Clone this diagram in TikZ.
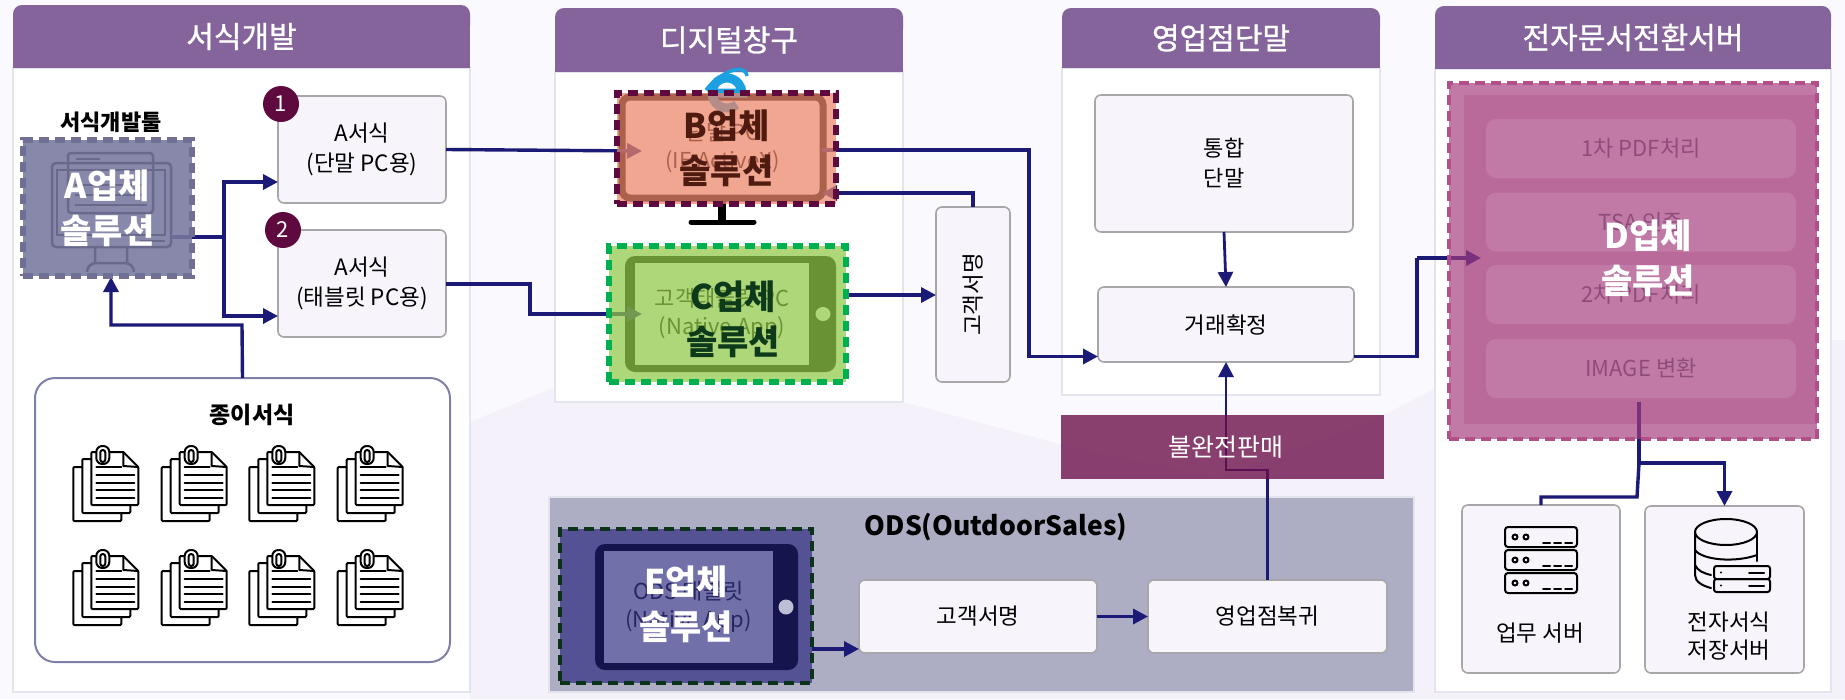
\documentclass[tikz,border=0pt]{standalone}
\usepackage{fontspec}
\setmainfont{Noto Sans CJK KR}
\newfontfamily\krtitle[FakeBold=1]{Noto Sans CJK KR}
\usetikzlibrary{arrows.meta,calc,shapes.geometric}
\definecolor{navy}{HTML}{1B1B77}
\definecolor{hdr}{HTML}{85649B}
\definecolor{bgA}{HTML}{FAF9FD}
\definecolor{bgB}{HTML}{F5F1FA}
\definecolor{pborder}{HTML}{E4E4EE}
\definecolor{boxfill}{HTML}{F7F5FB}
\definecolor{boxline}{HTML}{A9A6A9}
\definecolor{wine}{HTML}{5F0A3F}
\definecolor{odsfill}{HTML}{ADADC4}
\definecolor{papline}{HTML}{7F80A8}
\definecolor{bluei}{HTML}{1BA1E2}
\definecolor{dinner}{HTML}{E4C8DB}
\definecolor{dtext}{HTML}{606F7D}
\definecolor{dashA}{HTML}{6F6F96}
\definecolor{ovA}{HTML}{78789F}
\definecolor{ovB}{HTML}{ED8669}
\definecolor{txtB}{HTML}{4F1A10}
\definecolor{dashC}{HTML}{00B050}
\definecolor{ovC}{HTML}{91C948}
\definecolor{txtC}{HTML}{0D3A1A}
\definecolor{dashE}{HTML}{0B3319}
\definecolor{ovE}{HTML}{22207A}
\definecolor{btnE}{HTML}{BDBDD6}
\definecolor{dashD}{HTML}{B04F88}
\definecolor{ovD}{HTML}{A53C7C}
\definecolor{ovF}{HTML}{6B0F4A}
\newcommand{\fz}[2]{\fontsize{#1pt}{#2pt}\selectfont}
\tikzset{
  x=1pt,y=-1pt,
  conn/.style={draw=navy,line width=3.4pt,-{Triangle[length=15pt,width=15pt]}},
  plainconn/.style={draw=navy,line width=3.4pt},
  fbox/.style={draw=boxline,line width=1.6pt,fill=boxfill,rounded corners=6pt,inner sep=0pt,outer sep=0pt,align=center,font=\fz{22.5}{30}},
  numdot/.style={circle,fill=wine,text=white,minimum size=36pt,inner sep=0pt,font=\fz{22}{22}},
  solution/.style={inner sep=0pt,outer sep=0pt,line width=5.5pt,dash pattern=on 10pt off 6pt,text opacity=1,align=center,font=\bfseries\fz{34}{45}},
  soltext/.style={inner sep=0pt,align=center,font=\bfseries\fz{34}{45}},
  underscreen/.style={inner sep=0pt,outer sep=0pt,align=center,font=\fz{22}{28}},
  icon/.style={draw=black,line width=2pt,line cap=round,line join=round},
  docicon/.pic={
    \draw[icon,fill=white,rounded corners=1pt] (0,21) rectangle (48,75);
    \draw[icon,fill=white,rounded corners=1pt] (9,13) rectangle (57,67);
    \draw[icon,fill=white,rounded corners=1pt] (18,6) -- (50,6) -- (65,21) -- (65,59) -- (18,59) -- cycle;
    \draw[icon] (50,6) -- (50,20) -- (65,21);
    \foreach \ly in {29,37,44,52} {\draw[icon] (23,\ly) -- (61,\ly);}
    \draw[icon] (23,21) -- (48,21);
    \draw[icon,fill=white,rounded corners=6pt] (23,0) rectangle (36,18);
    \draw[icon,rounded corners=2.5pt] (27,4) rectangle (32,16);
  }
}
\newcommand{\panel}[7]{%
  \draw[pborder,line width=2pt,fill=white] (#2,#4) rectangle (#5,#6);
  \fill[hdr,rounded corners=9pt] (#2,#3) rectangle (#5,#3+30);
  \fill[hdr] (#2,#3+15) rectangle (#5,#4);
  \node[text=white,font=\krtitle\fz{30}{30},inner sep=0pt] (#1) at ($(#2,#3)!.5!(#5,#4)$) {#7};
}
\begin{document}
\begin{tikzpicture}
\useasboundingbox (0,0) rectangle (1845,699);
\fill[bgA] (0,0) rectangle (1845,699);
\fill[bgB] (470,422) -- (556,387) -- (730,340) -- (903,402) -- (1063,445) -- (1220,478) -- (1384,415) -- (1432,390) -- (1500,340) -- (1845,340) -- (1845,699) -- (470,699) -- cycle;

\panel{t1}{13}{5}{68}{470}{692}{서식개발}
\panel{t2}{555}{8}{72}{903}{402}{디지털창구}
\panel{t3}{1062}{8}{68}{1380}{395}{영업점단말}
\panel{t4}{1435}{6}{69}{1831}{692}{전자문서전환서버}

% ODS panel
\node[draw=pborder,line width=2pt,fill=odsfill,inner sep=0pt,outer sep=0pt,minimum width=865pt,minimum height=195pt] (ods) at (981.5,594.5) {};
\node[inner sep=0pt,font=\bfseries\fz{26.5}{26.5}] (odst) at (996,527) {ODS(OutdoorSales)};

% --- A tool icon (under overlay)
\node[font=\bfseries\fz{22}{22},inner sep=0pt] (toolt) at (111,122) {서식개발툴};
\fill[white] (23,140) rectangle (192,276);
\node[draw=black,line width=2.5pt,rounded corners=4pt,minimum width=119pt,minimum height=84pt,inner sep=0pt,outer sep=0pt] (monA) at (111.5,205) {};
\draw[black,line width=2.5pt] (57,170) rectangle (165,235);
\draw[black,line width=2.5pt,rounded corners=3pt] (68,213) -- (68,153) -- (153,153) -- (153,213) -- cycle;
\draw[black,line width=2.5pt] (76,159) -- (100,159);
\foreach \ly in {185,195,205,213} {\draw[black,line width=2.5pt] (75,\ly) -- (147,\ly);}
\draw[black,line width=2.5pt] (140,241) -- (165,241);
\draw[black,line width=2.5pt] (95,247) -- (95,263) (127,247) -- (127,263) (87,272) arc[start angle=180,end angle=270,radius=9] -- (125,263) arc[start angle=270,end angle=360,radius=9];

% --- form boxes
\node[fbox,minimum width=168pt,minimum height=107pt] (f1) at (362,149.5) {A서식\\(단말 PC용)};
\node[fbox,minimum width=168pt,minimum height=107pt] (f2) at (362,283.5) {A서식\\(태블릿 PC용)};
\node[numdot] (n1) at (281,104) {1};
\node[numdot] (n2) at (283,230) {2};

% --- paper forms
\node[draw=papline,fill=white,line width=2pt,rounded corners=20pt,minimum width=415pt,minimum height=284pt,inner sep=0pt,outer sep=0pt] (paper) at (242.5,520) {};
\node[font=\bfseries\fz{23}{23},inner sep=0pt] (papert) at (252,415) {종이서식};
\foreach \dy in {446,550} {\foreach \dx in {73.3,161.7,249.3,337.7} {\pic at (\dx,\dy) {docicon};}}

% --- A connectors
\coordinate (j1) at (224,237);
\draw[plainconn] (monA.east |- j1) -- (j1);
\draw[conn] (j1) |- ([yshift=-32.5pt]f1.west);
\draw[conn] (j1) |- ([yshift=-32.5pt]f2.west);
\coordinate (j2) at (242,325);
\coordinate (aup) at (111,277);
\draw[conn] (paper.north) -- (j2) -| (aup);

% --- monitor B under overlay
\node[draw=black,line width=7pt,fill=white,rounded corners=8pt,minimum width=201pt,minimum height=101pt,underscreen] (monB) at (722.5,147.5) {단말 PC\\(IE ActiveX)};
\draw[line width=9pt,bluei] (736.6,104.5) arc[start angle=50,end angle=360,radius=15] -- (712,93);
\draw[line width=3.5pt,bluei] (706,90) .. controls (720,72) and (745,62) .. (747,76);
\draw[black,line width=8pt] (722,198) -- (722,222);
\draw[black,line width=5pt,line cap=round] (691,222) -- (754,222);

% --- tablet C under overlay
\node[fill=black,rounded corners=10pt,minimum width=211pt,minimum height=116pt,inner sep=0pt,outer sep=0pt] (phoneC) at (730.5,314) {};
\node[fill=white,minimum width=174pt,minimum height=102pt,underscreen] (scrC) at (722,314) {고객태블릿 PC\\(Native App)};
\node[fill=white,ellipse,minimum width=15pt,minimum height=14pt,inner sep=0pt] (btnC) at (823,314) {};

% --- remaining connectors under overlays
\coordinate (Bin) at (642,151);
\draw[conn] (f1.east) -- (Bin);
\coordinate (Cin) at (642,314);
\coordinate (j3) at (530,284);
\draw[conn] (f2.east |- j3) -- (j3) |- (Cin);

\node[fbox,minimum width=74pt,minimum height=175pt] (sig) at (973,294.5) {\rotatebox{90}{고객서명}};
\coordinate (Cout) at (848,295);
\draw[conn] (Cout) -- (sig.west |- Cout);
\coordinate (Bsig) at (822,193);
\draw[conn] (sig.north) |- (Bsig);

% --- shop terminal
\node[fbox,minimum width=258pt,minimum height=137pt,font=\fz{22}{30}] (tong) at (1224,163.5) {통합\\단말};
\node[fbox,minimum width=256pt,minimum height=75pt] (cfm) at (1226,324.5) {거래확정};
\draw[conn,line width=2.8pt] (tong.south) -- (cfm.north);
\coordinate (Bout) at (822,150);
\coordinate (j4) at (1029,150);
\draw[conn] (Bout) -- (j4) |- ([yshift=-32pt]cfm.west);

% --- D block under overlay
\node[fill=dinner,minimum width=353pt,minimum height=329pt,inner sep=0pt,outer sep=0pt] (dback) at (1640.5,259.5) {};
\foreach \nm/\cy/\tx in {r1/148.5/1차 PDF처리,r2/222/TSA 인증,r3/294.5/2차 PDF처리,r4/368.5/IMAGE 변환}{
  \node[fill=white,rounded corners=10pt,minimum width=310pt,minimum height=59pt,inner sep=0pt,outer sep=0pt,text=dtext,font=\fz{22}{22}] (\nm) at (1641,\cy) {\tx};
}
\coordinate (j5) at (1417,258);
\coordinate (Din) at (1481,258);
\draw[plainconn] ([yshift=-32pt]cfm.east) -| (j5);
\draw[conn] (j5) -- (Din);
\coordinate (Dout) at (1639,402);
\coordinate (j6) at (1639,463);
\node[fbox,minimum width=158pt,minimum height=168pt] (srv) at (1541,589) {};
\node[fbox,minimum width=159pt,minimum height=167pt] (sto) at (1724.5,589.5) {};
\draw[conn] (Dout) -- (j6) -| (sto.north);
\coordinate (j8) at (1637,497);
\draw[plainconn] (j6) -- (j8) -| (srv.north);
\node[font=\fz{22.5}{22.5},inner sep=0pt] (srvt) at (1540,633) {업무 서버};
\node[font=\fz{22.5}{28},inner sep=0pt,align=center] (stot) at (1729,636) {전자서식\\저장서버};

% server icon
\foreach \sy in {527,550,573}{
  \draw[icon,rounded corners=3pt] (1505,\sy) rectangle (1577,\sy+20);
  \draw[icon] (1515,\sy+10) circle[radius=2.5] (1526,\sy+10) circle[radius=2.5];
  \draw[icon] (1543,\sy+15.5) -- (1550,\sy+15.5) (1554,\sy+15.5) -- (1561,\sy+15.5) (1565,\sy+15.5) -- (1572,\sy+15.5);
}
% database icon
\draw[icon] (1726,532) ellipse[x radius=31,y radius=13];
\draw[icon] (1695,532) -- (1695,575) .. controls (1695,582) and (1703,586) .. (1711,588);
\draw[icon] (1757,532) -- (1757,561);
\draw[icon] (1695,550) .. controls (1702,560) and (1735,563) .. (1757,555);
\draw[icon] (1695,565) .. controls (1698,571) and (1703,573) .. (1711,575);
\draw[icon,rounded corners=2.5pt] (1714,566) rectangle (1770,579);
\draw[icon,rounded corners=2.5pt] (1714,579) rectangle (1770,592);
\draw[icon] (1749,572.5) -- (1764,572.5) (1749,585.5) -- (1764,585.5);
\fill (1721,572.5) circle[radius=1.2] (1721,585.5) circle[radius=1.2];

% --- ODS content
\node[fill=black,rounded corners=10pt,minimum width=203pt,minimum height=126pt,inner sep=0pt,outer sep=0pt] (tabE) at (696.5,607) {};
\node[fill=white,minimum width=169pt,minimum height=112pt,underscreen,text=black!80] (scrE) at (688.5,607) {ODS 태블릿\\(Native App)};
\node[fbox,minimum width=238pt,minimum height=73pt] (sgn) at (978,616.5) {고객서명};
\node[fbox,minimum width=239pt,minimum height=73pt] (ret) at (1267.5,616.5) {영업점복귀};
\draw[conn] (sgn.east) -- (ret.west);
\coordinate (Eout) at (812,649);
\draw[conn] (Eout) -- (sgn.west |- Eout);
\coordinate (j7) at (1240,470);
\draw[conn,line width=2.8pt] (ret.north) |- (j7) -| (cfm.south);

% --- overlays
\node[solution,draw=dashA,fill=ovA,fill opacity=.88,minimum width=169pt,minimum height=136pt,text=white] (solA) at (107.5,208) {A업체\\솔루션};
\node[solution,draw=wine,fill=ovB,fill opacity=.73,minimum width=219pt,minimum height=111pt,text=txtB] (solB) at (726.5,148.5) {B업체\\솔루션};
\node[solution,draw=dashC,fill=ovC,fill opacity=.73,minimum width=237pt,minimum height=136pt] (solC) at (727.5,314) {};
\node[soltext,text=txtC] (txtCn) at (733,319.5) {C업체\\솔루션};
\node[solution,draw=dashE,line width=4.5pt,fill=ovE,fill opacity=.64,minimum width=252pt,minimum height=154pt] (solE) at (686,606) {};
\node[fill=btnE,ellipse,minimum width=15pt,minimum height=15pt,inner sep=0pt] (btnE) at (786,607) {};
\node[soltext,text=white] (txtEn) at (686,604.5) {E업체\\솔루션};
\node[solution,draw=dashD,line width=4.5pt,fill=ovD,fill opacity=.68,minimum width=368pt,minimum height=356pt] (solD) at (1633,261) {};
\node[soltext,text=white] (txtDn) at (1648,258) {D업체\\솔루션};
\node[fill=ovF,fill opacity=.79,text opacity=1,text=white,minimum width=323pt,minimum height=64pt,inner sep=0pt,outer sep=0pt,font=\fz{25}{25}] (inc) at (1222.5,447) {\hspace{7pt}불완전판매};
\end{tikzpicture}
\end{document}
